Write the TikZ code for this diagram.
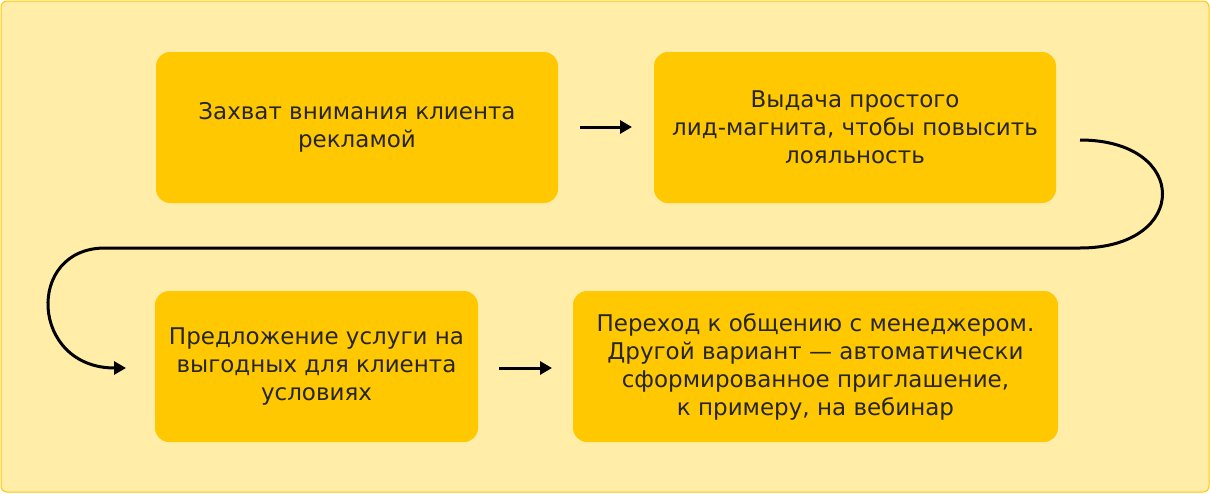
\documentclass[tikz,border=0pt]{standalone}
\usepackage{fontspec}
\setmainfont{DejaVu Sans}
\usetikzlibrary{arrows.meta}
\definecolor{bg}{HTML}{FFEDA8}
\definecolor{bd}{HTML}{FFC800}
\definecolor{bx}{HTML}{FFC800}
\tikzset{box/.style={fill=bx,rounded corners=14pt,align=center,font=\fontsize{23}{28}\selectfont,text=black!85},
arr/.style={-{Triangle[length=12pt,width=13pt]},line width=3pt}}
\begin{document}
\begin{tikzpicture}[x=1pt,y=-1pt]
\useasboundingbox (0,0) rectangle (1210,493);
\draw[fill=bg,draw=bd,line width=1pt,rounded corners=6pt] (1,1) rectangle (1209,492);
\node[box,minimum width=402pt,minimum height=151pt] (a) at (357,127.5) {Захват внимания клиента\\рекламой};
\node[box,minimum width=402pt,minimum height=151pt] (b) at (855,127.5) {Выдача простого\\лид-магнита, чтобы повысить\\лояльность};
\node[box,minimum width=323pt,minimum height=151pt] (c) at (316.5,366.5) {Предложение услуги на\\выгодных для клиента\\условиях};
\node[box,minimum width=485pt,minimum height=151pt] (d) at (815.5,366.5) {Переход к общению с менеджером.\\Другой вариант — автоматически\\сформированное приглашение,\\к примеру, на вебинар};
\draw[arr] (580,127) -- (632,127);
\draw[arr] (499,368) -- (552,368);
\coordinate (s) at (1080,140);
\coordinate (e) at (126,368);
\draw[arr] (s) .. controls (1190,140) and (1190,248) .. (1080,248) -- (105,248) .. controls (25,248) and (30,368) .. (e);
\end{tikzpicture}
\end{document}
